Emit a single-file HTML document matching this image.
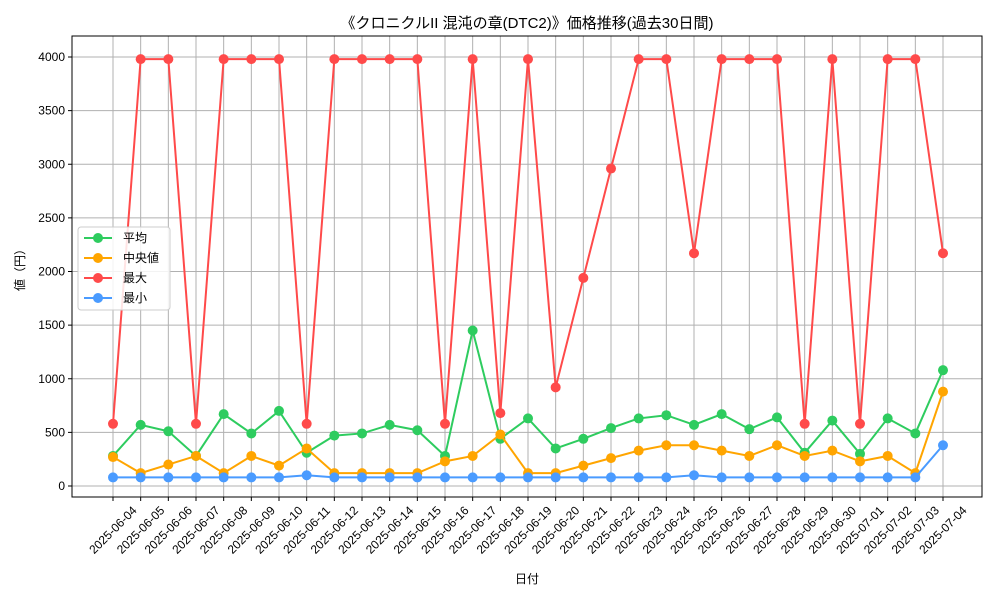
<!DOCTYPE html>
<html><head><meta charset="utf-8"><style>
body{margin:0;background:#fff;}
svg{display:block;font-family:"Liberation Sans","Noto Sans CJK JP",sans-serif;}
</style></head><body>
<svg id="chart" width="1000" height="600"></svg>
<script>
const dates=["2025-06-04","2025-06-05","2025-06-06","2025-06-07","2025-06-08","2025-06-09","2025-06-10","2025-06-11","2025-06-12","2025-06-13","2025-06-14","2025-06-15","2025-06-16","2025-06-17","2025-06-18","2025-06-19","2025-06-20","2025-06-21","2025-06-22","2025-06-23","2025-06-24","2025-06-25","2025-06-26","2025-06-27","2025-06-28","2025-06-29","2025-06-30","2025-07-01","2025-07-02","2025-07-03","2025-07-04"];
const avgValues=[280,570,510,280,670,490,700,310,470,490,570,520,280,1450,440,630,350,440,540,630,660,570,670,530,640,310,610,300,630,490,1080];
const medianValues=[270,120,200,280,120,280,190,350,120,120,120,120,230,280,480,120,120,190,260,330,380,380,330,280,380,280,330,230,280,120,880];
const maxValues=[580,3980,3980,580,3980,3980,3980,580,3980,3980,3980,3980,580,3980,680,3980,920,1940,2960,3980,3980,2170,3980,3980,3980,580,3980,580,3980,3980,2170];
const minValues=[80,80,80,80,80,80,80,100,80,80,80,80,80,80,80,80,80,80,80,80,80,100,80,80,80,80,80,80,80,80,380];
const yTicks=[0,500,1000,1500,2000,2500,3000,3500,4000];
const NS="http://www.w3.org/2000/svg";
const svg=document.getElementById("chart");
const L=72,R=982,T=36,B=497;
const x=i=>113+i*(943-113)/(dates.length-1);
const y=v=>486-v*(486-57)/4000;
function el(tag,attrs,parent){const e=document.createElementNS(NS,tag);for(const k in attrs)e.setAttribute(k,attrs[k]);(parent||svg).appendChild(e);return e;}
// grid
dates.forEach((d,i)=>{
  const g=el("line",{x1:x(i),x2:x(i),y1:T,y2:B,stroke:"#b0b0b0","stroke-width":1});
  
  
  const t=el("line",{x1:x(i),x2:x(i),y1:B,y2:B+4,stroke:"#000"});
  
  
  const cx=x(i),cy=530;
  const lb=el("text",{x:cx,y:cy+4,"text-anchor":"middle","font-size":12,transform:`rotate(-45 ${cx} ${cy})`});
  lb.textContent=d;
  
  
});
yTicks.forEach(v=>{
  const g=el("line",{x1:L,x2:R,y1:y(v),y2:y(v),stroke:"#b0b0b0","stroke-width":1});
  
  
  const t=el("line",{x1:L-4,x2:L,y1:y(v),y2:y(v),stroke:"#000"});
  
  
  const lb=el("text",{x:L-7,y:y(v)+4,"text-anchor":"end","font-size":12});
  lb.textContent=v;
  
  
});
const series=[[avgValues,"#2ecc5f","series-average"],[medianValues,"#ffa500","series-median"],[maxValues,"#ff4a4a","series-max"],[minValues,"#4a9bff","series-min"]];
series.forEach(([vals,c,n])=>{
  const p=el("polyline",{points:vals.map((v,i)=>x(i)+","+y(v)).join(" "),fill:"none",stroke:c,"stroke-width":2});
  
  
  vals.forEach((v,i)=>{
    const m=el("circle",{cx:x(i),cy:y(v),r:5,fill:c});
    
    
  });
});
const fr=el("rect",{x:L,y:T,width:R-L,height:B-T,fill:"none",stroke:"#000","stroke-width":1});


// legend
const lg=el("g",{});


el("rect",{x:78,y:227,width:92,height:83,rx:3,fill:"#fff","fill-opacity":0.85,stroke:"#ccc"},lg);
const names=["平均","中央値","最大","最小"];
series.forEach(([v,c,n],k)=>{
  const yy=238+k*20;
  const e=el("g",{},lg);
  
  
  el("line",{x1:84,x2:112,y1:yy,y2:yy,stroke:c,"stroke-width":2},e);
  el("circle",{cx:98,cy:yy,r:5,fill:c},e);
  const t=el("text",{x:123,y:yy+4,"font-size":12},e);t.textContent=names[k];
});
const title=el("text",{x:527,y:28,"text-anchor":"middle","font-size":15});
title.textContent="《クロニクルII 混沌の章(DTC2)》価格推移(過去30日間)";


const xl=el("text",{x:527,y:583,"text-anchor":"middle","font-size":12});
xl.textContent="日付";


const yl=el("text",{x:24,y:267,"text-anchor":"middle","font-size":12,transform:"rotate(-90 24 267)"});
yl.textContent="値（円）";


</script>
</body></html>
